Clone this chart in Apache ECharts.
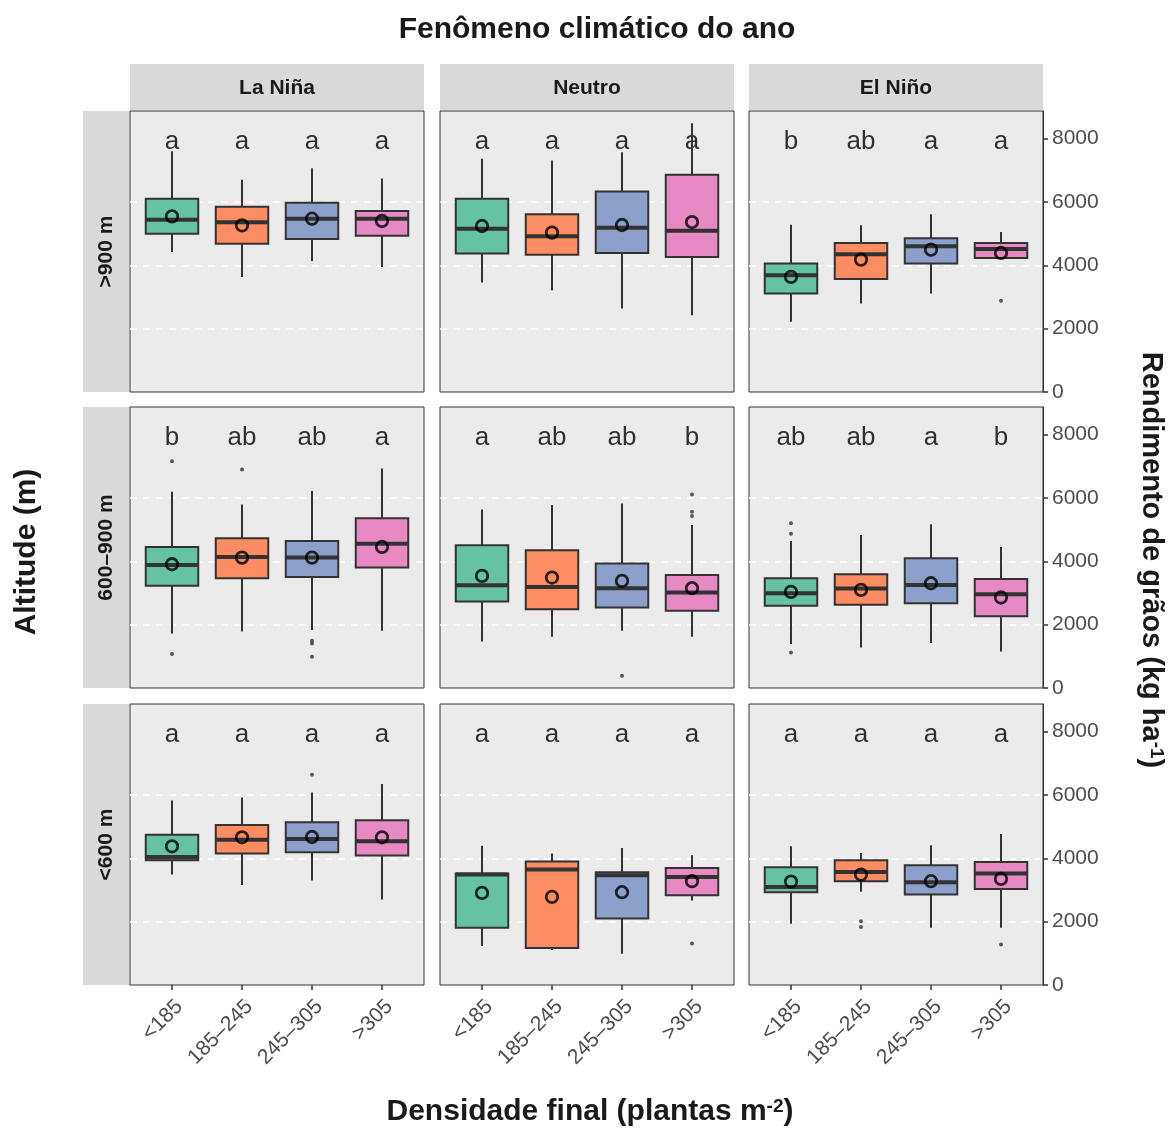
<!DOCTYPE html>
<html>
<head>
<meta charset="utf-8">
<title>Rendimento por densidade</title>
<script src="https://cdn.jsdelivr.net/npm/echarts@6/dist/echarts.min.js"></script>
<style>
  html, body { margin: 0; padding: 0; background: #ffffff; }
  #chart { width: 1173px; height: 1129px; }
</style>
</head>
<body>
<div id="chart"></div>
<script>
const climates = ['La Niña', 'Neutro', 'El Niño']
const altitudes = ['>900 m', '600–900 m', '<600 m']
const densities = ['<185', '185–245', '245–305', '>305']
const xTicks = [0, 1, 2, 3]
const yTicks = [0, 2000, 4000, 6000, 8000]
const gridLines = [2000, 4000, 6000]
const colors = ['#66C2A5', '#FC8D62', '#8DA0CB', '#E78AC3']

// [min, Q1, mediana, Q3, max] por classe de densidade; um bloco por fenômeno (La Niña, Neutro, El Niño)
const boxesAbove900 = [
  [[4420, 4998, 5439, 6100, 7602], [3633, 4683, 5355, 5849, 6699], [4137, 4830, 5470, 5975, 7066], [3948, 4935, 5470, 5712, 6741]],
  [[3454, 4368, 5155, 6100, 7360], [3213, 4336, 4914, 5607, 7308], [2635, 4389, 5187, 6331, 7570], [2425, 4263, 5092, 6856, 8484]],
  [[2215, 3108, 3685, 4053, 5281], [2793, 3570, 4347, 4704, 5260], [3108, 4053, 4599, 4851, 5607], [4231, 4231, 4515, 4704, 5050]]
]
const boxes600to900 = [
  [[1722, 3224, 3885, 4452, 6195], [1785, 3465, 4137, 4725, 5796], [1827, 3507, 4116, 4641, 6216], [1806, 3801, 4557, 5355, 6930]],
  [[1470, 2730, 3244, 4504, 5638], [1617, 2488, 3192, 4347, 5775], [1806, 2541, 3150, 3927, 5827], [1617, 2436, 3013, 3570, 5145]],
  [[1386, 2593, 2992, 3465, 4641], [1281, 2625, 3139, 3591, 4830], [1417, 2677, 3255, 4095, 5166], [1155, 2268, 2961, 3444, 4452]]
]
const boxesBelow600 = [
  [[3486, 3937, 4042, 4746, 5827], [3160, 4147, 4588, 5050, 5922], [3297, 4189, 4609, 5134, 6079], [2698, 4084, 4536, 5197, 6342]],
  [[1228, 1806, 3486, 3517, 4399], [1102, 1165, 3643, 3895, 4147], [987, 2100, 3465, 3559, 4326], [2667, 2835, 3412, 3696, 4095]],
  [[1932, 2929, 3097, 3717, 4378], [2940, 3276, 3570, 3937, 4168], [1806, 2856, 3244, 3780, 4410], [1806, 3034, 3517, 3885, 4767]]
]

// médias (círculos vazados)
const meansAbove900 = [[5544, 5260, 5470, 5397], [5240, 5030, 5271, 5365], [3633, 4179, 4494, 4389]]
const means600to900 = [[3906, 4116, 4116, 4452], [3538, 3486, 3381, 3150], [3034, 3097, 3307, 2856]]
const meansBelow600 = [[4378, 4662, 4672, 4662], [2908, 2782, 2929, 3276], [3265, 3486, 3276, 3349]]

// outliers: [classe, valor]
const outliersAbove900 = [[], [], [[3, 2877]]]
const outliers600to900 = [
  [[0, 7161], [0, 1071], [1, 6899], [2, 1491], [2, 1407], [2, 987]],
  [[2, 388], [3, 6111], [3, 5565], [3, 5428]],
  [[0, 5197], [0, 4872], [0, 1123]]
]
const outliersBelow600 = [[[2, 6636]], [[3, 1312]], [[1, 2016], [1, 1827], [3, 1281]]]

// letras do teste de médias
const lettersAbove900 = [['a', 'a', 'a', 'a'], ['a', 'a', 'a', 'a'], ['b', 'ab', 'a', 'a']]
const letters600to900 = [['b', 'ab', 'ab', 'a'], ['a', 'ab', 'ab', 'b'], ['ab', 'ab', 'a', 'b']]
const lettersBelow600 = [['a', 'a', 'a', 'a'], ['a', 'a', 'a', 'a'], ['a', 'a', 'a', 'a']]
const letterLevel = 7890

const rowBoxes = [boxesAbove900, boxes600to900, boxesBelow600]
const rowMeans = [meansAbove900, means600to900, meansBelow600]
const rowOutliers = [outliersAbove900, outliers600to900, outliersBelow600]
const rowLetters = [lettersAbove900, letters600to900, lettersBelow600]

const FONT = '"Liberation Sans", Arial, Helvetica, sans-serif'
const colLeft = [130, 440, 749]
const rowTop = [111, 407, 704]
const panelW = 294
const panelH = 281
const yMax = 8870

const grids = []
const xAxes = []
const yAxes = []
const series = []
const graphics = []

const renderBox = (params, api) => {
  const idx = api.value(0)
  const bw = api.size([0.75, 0])[0]
  const pLow = api.coord([idx, api.value(1)])
  const pQ1 = api.coord([idx, api.value(2)])
  const pMed = api.coord([idx, api.value(3)])
  const pQ3 = api.coord([idx, api.value(4)])
  const pHigh = api.coord([idx, api.value(5)])
  const cx = pMed[0]
  const stroke = { stroke: '#333333', lineWidth: 2 }
  return {
    type: 'group',
    children: [
      { type: 'line', shape: { x1: cx, y1: pLow[1], x2: cx, y2: pQ1[1] }, style: stroke },
      { type: 'line', shape: { x1: cx, y1: pQ3[1], x2: cx, y2: pHigh[1] }, style: stroke },
      {
        type: 'rect',
        shape: { x: cx - bw / 2, y: pQ3[1], width: bw, height: pQ1[1] - pQ3[1] },
        style: { fill: colors[idx], stroke: '#333333', lineWidth: 2 }
      },
      {
        type: 'line',
        shape: { x1: cx - bw / 2, y1: pMed[1], x2: cx + bw / 2, y2: pMed[1] },
        style: { stroke: '#333333', lineWidth: 4 }
      }
    ]
  }
}

for (let r = 0; r < 3; r++) {
  for (let c = 0; c < 3; c++) {
    const gi = r * 3 + c
    grids.push({
      left: colLeft[c],
      top: rowTop[r],
      width: panelW,
      height: panelH,
      show: true,
      backgroundColor: '#EBEBEB',
      borderColor: '#333333',
      borderWidth: 1
    })
    // eixo discreto com a expansão do ggplot (0,6 unidade de cada lado)
    xAxes.push({
      gridIndex: gi,
      type: 'value',
      min: -0.6,
      max: 3.6,
      position: 'bottom',
      axisLine: { show: false, onZero: false },
      axisTick: { show: r === 2, customValues: xTicks, length: 5, lineStyle: { color: '#333333', width: 1.5 } },
      axisLabel: {
        show: r === 2,
        customValues: xTicks,
        formatter: (v) => densities[Math.round(v)],
        rotate: 45,
        margin: 11,
        verticalAlign: 'top',
        fontSize: 21,
        fontFamily: FONT,
        color: '#4D4D4D'
      },
      splitLine: { show: false }
    })
    yAxes.push({
      gridIndex: gi,
      type: 'value',
      min: 0,
      max: yMax,
      show: c === 2,
      position: 'right',
      axisLine: { show: true, onZero: false, lineStyle: { color: '#333333' } },
      axisTick: { show: true, length: 5, customValues: yTicks, lineStyle: { color: '#333333', width: 1.5 } },
      axisLabel: {
        customValues: yTicks,
        formatter: (v) => String(v),
        margin: 9,
        fontSize: 21,
        fontFamily: FONT,
        color: '#4D4D4D'
      },
      splitLine: { show: false }
    })

    const letters = rowLetters[r][c]
    series.push({
      type: 'scatter',
      xAxisIndex: gi,
      yAxisIndex: gi,
      z: 1,
      silent: true,
      symbolSize: 0.1,
      itemStyle: { color: 'rgba(0,0,0,0)' },
      label: {
        show: true,
        position: 'inside',
        fontSize: 26,
        fontFamily: FONT,
        color: '#000000',
        formatter: (p) => letters[p.dataIndex]
      },
      data: letters.map((l, i) => [i, letterLevel]),
      markLine: {
        silent: true,
        z: 1,
        symbol: 'none',
        label: { show: false },
        lineStyle: { color: '#ffffff', type: [7, 6], width: 1.6 },
        data: gridLines.map(v => ({ yAxis: v }))
      }
    })
    series.push({
      type: 'custom',
      xAxisIndex: gi,
      yAxisIndex: gi,
      z: 3,
      silent: true,
      renderItem: renderBox,
      encode: { x: 0, y: [1, 2, 3, 4, 5] },
      data: rowBoxes[r][c].map((b, i) => [i].concat(b))
    })
    series.push({
      type: 'scatter',
      xAxisIndex: gi,
      yAxisIndex: gi,
      z: 4,
      silent: true,
      symbolSize: 4,
      itemStyle: { color: '#333333' },
      data: rowOutliers[r][c]
    })
    series.push({
      type: 'scatter',
      xAxisIndex: gi,
      yAxisIndex: gi,
      z: 6,
      silent: true,
      symbolSize: 11.5,
      itemStyle: { color: 'rgba(0,0,0,0)', borderColor: '#000000', borderWidth: 2.8 },
      data: rowMeans[r][c].map((m, i) => [i, m])
    })
  }
}

// faixas dos painéis
climates.forEach((name, c) => {
  graphics.push({
    type: 'rect',
    shape: { x: colLeft[c], y: 64, width: panelW, height: 46 },
    style: { fill: '#D9D9D9' }
  })
  graphics.push({
    type: 'text',
    x: colLeft[c] + panelW / 2,
    y: 88,
    style: { text: name, textAlign: 'center', textVerticalAlign: 'middle', fontSize: 21, fontWeight: 'bold', fontFamily: FONT, fill: '#1A1A1A' }
  })
})
altitudes.forEach((name, r) => {
  graphics.push({
    type: 'rect',
    shape: { x: 83, y: rowTop[r], width: 46, height: panelH },
    style: { fill: '#D9D9D9' }
  })
  graphics.push({
    type: 'text',
    x: 106,
    y: rowTop[r] + panelH / 2,
    rotation: Math.PI / 2,
    style: { text: name, textAlign: 'center', textVerticalAlign: 'middle', fontSize: 21, fontWeight: 'bold', fontFamily: FONT, fill: '#1A1A1A' }
  })
})

const titleStyle = { textAlign: 'center', textVerticalAlign: 'middle', fontSize: 30, fontWeight: 'bold', fontFamily: FONT, fill: '#1A1A1A' }
const supStyle = { fontSize: 19, fontWeight: 'bold', fontFamily: FONT, fill: '#1A1A1A', verticalAlign: 'top' }
graphics.push({
  type: 'text', x: 597, y: 30,
  style: Object.assign({ text: 'Fenômeno climático do ano' }, titleStyle)
})
graphics.push({
  type: 'text', x: 590, y: 1112,
  style: Object.assign({ text: 'Densidade final (plantas m{sup|-2})', rich: { sup: supStyle } }, titleStyle)
})
graphics.push({
  type: 'text', x: 27, y: 552, rotation: Math.PI / 2,
  style: Object.assign({ text: 'Altitude (m)' }, titleStyle)
})
graphics.push({
  type: 'text', x: 1151, y: 560, rotation: -Math.PI / 2,
  style: Object.assign({ text: 'Rendimento de grãos (kg ha{sup|-1})', rich: { sup: supStyle } }, titleStyle, { fontSize: 29 })
})

const chart = echarts.init(document.getElementById('chart'), null, { renderer: 'canvas' })
chart.setOption({
  backgroundColor: '#ffffff',
  animation: false,
  grid: grids,
  xAxis: xAxes,
  yAxis: yAxes,
  series: series,
  graphic: graphics
})
</script>
</body>
</html>
